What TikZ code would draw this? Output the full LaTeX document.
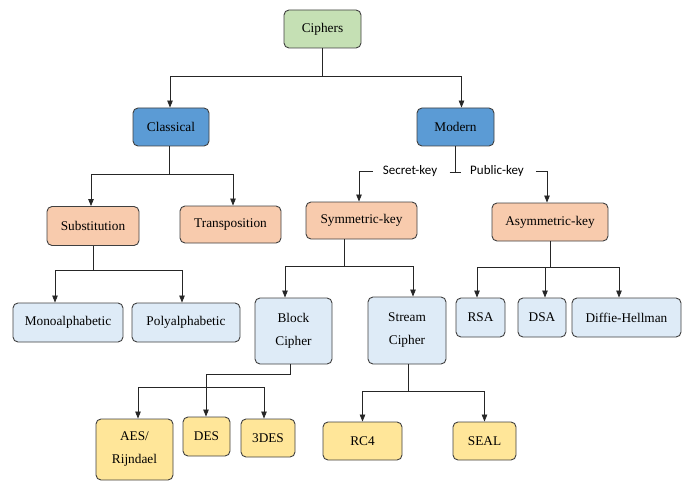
\documentclass[tikz,border=0pt]{standalone}
\usepackage{fontspec}
\setmainfont{Liberation Serif}
\newfontfamily\labelfont{Carlito}
\usetikzlibrary{arrows.meta}
\definecolor{boxline}{HTML}{404040}
\definecolor{cgreen}{HTML}{C5E0B4}
\definecolor{cblue}{HTML}{5B9BD5}
\definecolor{corange}{HTML}{F8CBAD}
\definecolor{clight}{HTML}{DEEBF7}
\definecolor{cyellow}{HTML}{FFE699}
\tikzset{
  box/.style={draw=boxline, rounded corners=5pt, line width=0.9pt, align=center,
    inner sep=0pt, font=\fontsize{13.3}{23}\selectfont},
  lbl/.style={inner sep=0pt, font=\labelfont\fontsize{13}{14}\selectfont},
  conn/.style={draw=black!85, line width=0.8pt},
  arr/.style={conn, -{Triangle[length=7pt,width=5.5pt]}}
}
\begin{document}
\begin{tikzpicture}[x=1pt,y=-1pt]
\useasboundingbox (0,0) rectangle (687,481);
% nodes
\node[box, fill=cgreen, minimum width=77, minimum height=38] (ciphers) at (322.5,29) {Ciphers};
\node[box, fill=cblue, minimum width=76, minimum height=38] (classical) at (171,127) {Classical};
\node[box, fill=cblue, minimum width=77, minimum height=38] (modern) at (455.5,127) {Modern};
\node[box, fill=corange, minimum width=92, minimum height=39] (subst) at (93,226) {Substitution};
\node[box, fill=corange, minimum width=101, minimum height=37] (transp) at (230.5,224.5) {Transposition};
\node[box, fill=corange, minimum width=111, minimum height=37] (symm) at (361.5,220.5) {Symmetric-key};
\node[box, fill=corange, minimum width=116, minimum height=38] (asym) at (550,222) {Asymmetric-key};
\node[box, fill=clight, minimum width=110, minimum height=39] (mono) at (68,322.5) {Monoalphabetic};
\node[box, fill=clight, minimum width=108, minimum height=39] (poly) at (186,322.5) {Polyalphabetic};
\node[box, fill=clight, minimum width=77, minimum height=66] (block) at (293.5,331) {Block\\Cipher};
\node[box, fill=clight, minimum width=78, minimum height=67] (stream) at (407,330.5) {Stream\\Cipher};
\node[box, fill=clight, minimum width=49, minimum height=39] (rsa) at (480.5,317.5) {RSA};
\node[box, fill=clight, minimum width=48, minimum height=39] (dsa) at (542,317.5) {DSA};
\node[box, fill=clight, minimum width=109, minimum height=39] (dh) at (626.5,317.5) {Diffie-Hellman};
\node[box, fill=cyellow, minimum width=77, minimum height=61] (aes) at (134.5,449.5) {AES/\\Rijndael};
\node[box, fill=cyellow, minimum width=47, minimum height=39] (des) at (206.5,436.5) {DES};
\node[box, fill=cyellow, minimum width=54, minimum height=38] (tdes) at (268,438) {3DES};
\node[box, fill=cyellow, minimum width=79, minimum height=38] (rc4) at (362.5,441) {RC4};
\node[box, fill=cyellow, minimum width=63, minimum height=38] (seal) at (484.5,441) {SEAL};
% labels
\node[lbl] (sk) at (410,171) {Secret-key};
\node[lbl] (pk) at (497,171) {Public-key};
% junctions
\coordinate (j1) at (322.5,76);
\coordinate (j2) at (455.5,172);
\coordinate (j3) at (169,174);
\coordinate (j4) at (93,270);
\coordinate (j5) at (344,266);
\coordinate (j6) at (550,267);
\coordinate (j7) at (290,374);
\coordinate (j8) at (206,387);
\coordinate (j9) at (408,391);
% connectors
\draw[conn] (ciphers.south) -- (j1);
\draw[arr] (j1) -| ([xshift=-1]classical.north);
\draw[arr] (j1) -| ([xshift=6]modern.north);
\draw[conn] (modern.south) -- (j2);
\draw[conn] ([xshift=-6]j2) -- ([xshift=5]j2);
\draw[arr] ([xshift=-10]sk.west) -| ([xshift=-2.5]symm.north);
\draw[arr] ([xshift=12]pk.east) -| ([xshift=-3]asym.north);
\draw[conn] (classical.south -| j3) -- (j3);
\draw[arr] (j3) -| ([xshift=-2]subst.north);
\draw[arr] (j3) -| ([xshift=2.5]transp.north);
\draw[conn] (subst.south) -- (j4);
\draw[arr] (j4) -| ([xshift=-13]mono.north);
\draw[arr] (j4) -| ([xshift=-4]poly.north);
\draw[conn] (symm.south -| j5) -- (j5);
\draw[arr] (j5) -| ([xshift=-8.5]block.north);
\draw[arr] (j5) -| ([xshift=6]stream.north);
\draw[conn] (asym.south) -- (j6);
\draw[arr] (j6) -| ([xshift=-3.5]rsa.north);
\draw[arr] (j6) -| ([xshift=3]dsa.north);
\draw[arr] (j6) -| ([xshift=-7.5]dh.north);
\draw[conn] (block.south -| j7) -- (j7) -| (j8);
\draw[arr] (j8) -- (des.north -| j8);
\draw[arr] ([xshift=-68]j8) -- ([xshift=3.5]aes.north);
\draw[conn] ([xshift=-68]j8) -- ([xshift=58]j8);
\draw[arr] ([xshift=58]j8) -- ([xshift=-4]tdes.north);
\draw[conn] (stream.south -| j9) -- (j9);
\draw[arr] (j9) -| (rc4.north);
\draw[arr] (j9) -| (seal.north);
\end{tikzpicture}
\end{document}
